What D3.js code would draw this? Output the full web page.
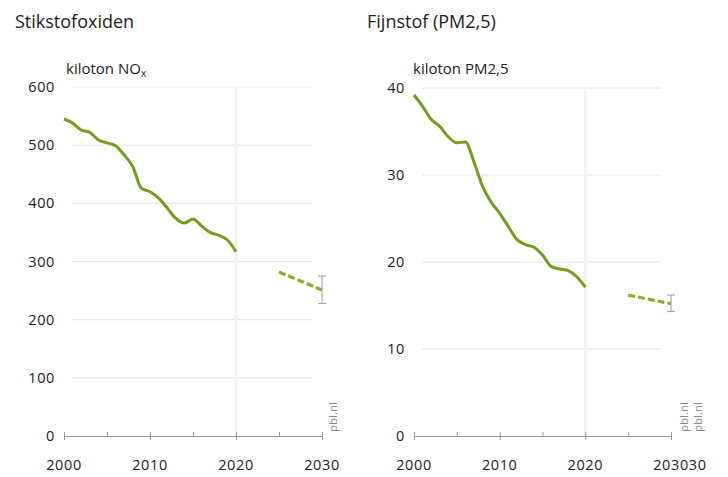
<!DOCTYPE html>
<html><head><meta charset="utf-8">
<script src="https://cdn.jsdelivr.net/npm/d3@7"></script>
<style>
body{margin:0;background:#fff;}
svg{display:block;font-family:"Open Sans","Noto Sans",sans-serif;}
</style></head>
<body>
<svg id="c" width="728" height="477"></svg>
<script>
const years = d3.range(2000, 2021);
const noxValues = [545, 538, 526, 522, 509, 504, 499, 483, 463, 426, 420, 409, 392, 374, 366, 373, 361, 350, 345, 337, 317];
const noxProjYears = [2025, 2030];
const noxProj = [282, 251];
const noxRange = [228, 275];
const pmValues = [39.2, 37.9, 36.4, 35.6, 34.4, 33.7, 33.8, 31.5, 28.7, 26.9, 25.6, 24.1, 22.6, 22.0, 21.7, 20.8, 19.5, 19.2, 19.0, 18.3, 17.1];
const pmProjYears = [2025, 2030];
const pmProj = [16.2, 15.2];
const pmRange = [14.3, 16.2];
const xTicks = [2000, 2010, 2020, 2030];
const noxTicks = [0, 100, 200, 300, 400, 500, 600];
const pmTicks = [0, 10, 20, 30, 40];

const svg = d3.select("#c");
const green = "#789b1f", dashGreen = "#8fad22";
const tickFont = 14.5, tickSpacing = 0.6;

function panel(o) {
  const x = d3.scaleLinear().domain([2000, 2030]).range([o.x0, o.x1]);
  const y = d3.scaleLinear().domain(o.domain).range([436, o.yTop]);
  const g = svg.append("g");
  g.append("text").attr("x", o.titleX).attr("y", 28).attr("font-size", 18).attr("fill", "#222").text(o.title);
  const u = g.append("text").attr("x", o.unitX).attr("y", 74).attr("font-size", 15).attr("fill", "#222");
  o.unit(u);
  g.selectAll(".grid").data(o.ticks.filter(d => d > 0)).join("line")
    .attr("x1", x(2000) + 8).attr("x2", x(2030) - 10)
    .attr("y1", d => y(d)).attr("y2", d => y(d))
    .attr("stroke", "#e4e4e4").attr("stroke-width", 1);
  g.append("line").attr("x1", x(2020)).attr("x2", x(2020))
    .attr("y1", y(o.domain[1])).attr("y2", y(0))
    .attr("stroke", "#f3f3f3").attr("stroke-width", 3);
  g.selectAll(".yl").data(o.ticks).join("text")
    .attr("x", o.x0 - 9).attr("y", d => y(d)).attr("dy", "0.35em")
    .attr("text-anchor", "end").attr("font-size", tickFont).attr("letter-spacing", tickSpacing).attr("fill", "#222")
    .text(d => d);
  const xa = g.append("g").attr("transform", `translate(0,${y(0)})`)
    .call(d3.axisBottom(x).tickValues(d3.range(2000, 2031, 5)).tickSize(-4).tickSizeOuter(0).tickFormat(""));
  xa.select(".domain").attr("stroke", "#999");
  xa.selectAll(".tick line").attr("stroke", "#999");
  xa.selectAll(".tick").filter(d => d % 10 === 0).select("line").attr("y1", 4).attr("y2", -4);
  const xl = g.selectAll(".xl").data(xTicks).join("text")
    .attr("x", d => x(d)).attr("y", 470).attr("text-anchor", "middle")
    .attr("font-size", tickFont).attr("letter-spacing", tickSpacing).attr("fill", "#222").text(d => d);
  if (o.extra) {
    const last = xl.filter(d => d === 2030).node();
    const w = last.getComputedTextLength();
    g.append("text").attr("x", x(2030) + w / 2).attr("y", 470).attr("font-size", tickFont)
      .attr("letter-spacing", tickSpacing).attr("fill", "#222").text(o.extra);
  }
  const line = d3.line().x((d, i) => x(years[i])).y(d => y(d)).curve(d3.curveMonotoneX);
  g.append("path").datum(o.values).attr("d", line).attr("fill", "none")
    .attr("stroke", green).attr("stroke-width", 3).attr("stroke-linejoin", "round");
  const pl = d3.line().x((d, i) => x(o.projYears[i])).y(d => y(d));
  g.append("path").datum(o.proj).attr("d", pl).attr("fill", "none")
    .attr("stroke", dashGreen).attr("stroke-width", 3.2).attr("stroke-dasharray", "7,3");
  const ex = x(2030);
  g.append("line").attr("x1", ex).attr("x2", ex).attr("y1", y(o.range[0])).attr("y2", y(o.range[1]))
    .attr("stroke", "#999").attr("stroke-width", 1);
  o.range.forEach(v => g.append("line").attr("x1", ex - 4).attr("x2", ex + 4).attr("y1", y(v)).attr("y2", y(v))
    .attr("stroke", "#999").attr("stroke-width", 1));
  o.pbl.forEach(px => g.append("text").attr("transform", `translate(${px},432) rotate(-90)`)
    .attr("font-size", 11.5).attr("fill", "#888").text("pbl.nl"));
}

panel({x0: 64, x1: 322, yTop: 87, domain: [0, 600], ticks: noxTicks, values: noxValues,
  projYears: noxProjYears, proj: noxProj, range: noxRange,
  title: "Stikstofoxiden", titleX: 15, unitX: 66,
  unit: t => { t.append("tspan").text("kiloton NO"); t.append("tspan").attr("font-size", 10).attr("dy", 3).text("x"); },
  pbl: [337]});
panel({x0: 414, x1: 671, yTop: 88, domain: [0, 40], ticks: pmTicks, values: pmValues,
  projYears: pmProjYears, proj: pmProj, range: pmRange,
  title: "Fijnstof (PM2,5)", titleX: 367, unitX: 413,
  unit: t => t.text("kiloton PM2,5"), extra: "30",
  pbl: [688, 702]});
</script>
</body></html>
